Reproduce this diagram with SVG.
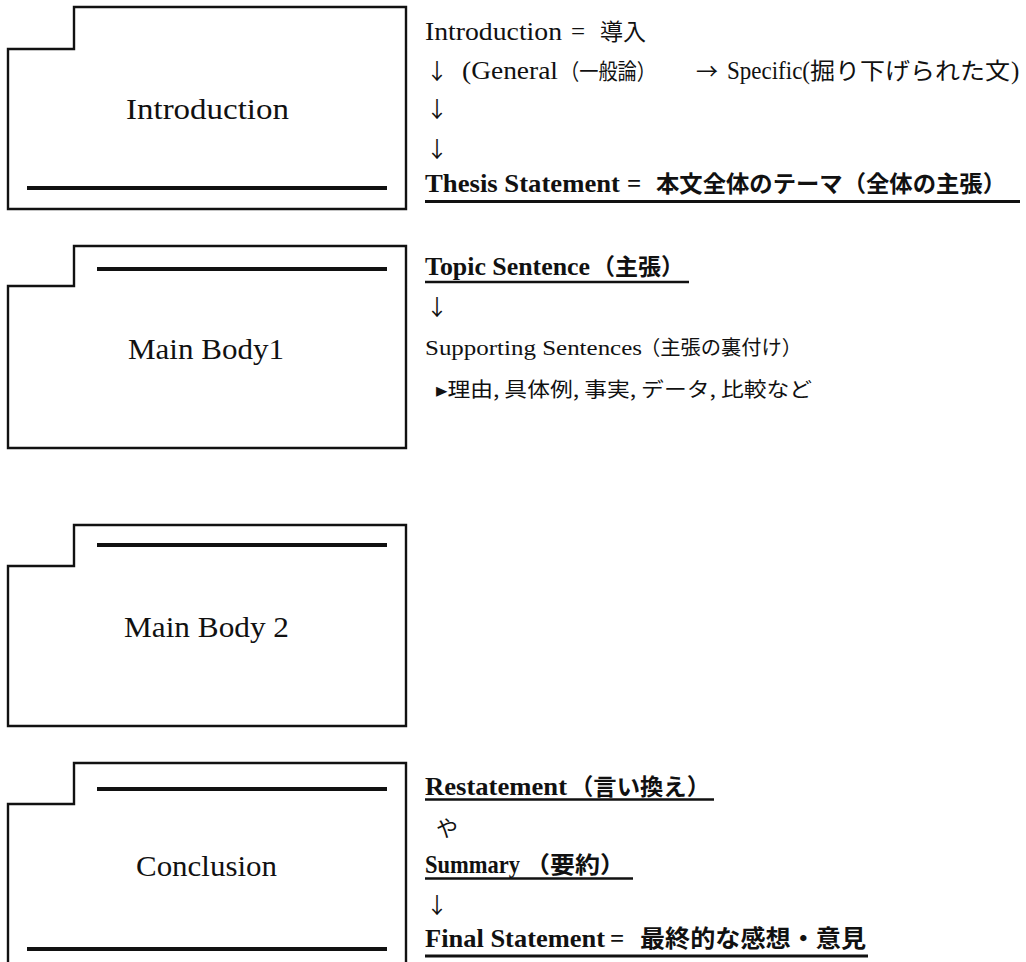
<svg xmlns="http://www.w3.org/2000/svg" width="1026" height="962" viewBox="0 0 1026 962">
<style>
.box{fill:#fff;stroke:#111;stroke-width:2.4;stroke-linejoin:miter}
.bar{stroke:#111;stroke-width:4;stroke-linecap:butt}
.ul{stroke:#111;stroke-width:2.6}
.lbl{font-family:"Liberation Serif","Noto Sans CJK JP",serif;font-size:30px;fill:#111}
.t{font-family:"Liberation Serif","Noto Sans CJK JP",serif;font-size:25px;fill:#111}
.b{font-weight:bold}
.cj{font-family:"Noto Sans CJK JP","Liberation Serif",sans-serif;fill:#111}
</style>
<rect width="1026" height="962" fill="#fff"/>
<g id="connectors"/>
<g id="node-introduction">
<path class="box" d="M8,49 H74 V7 H406 V209 H8 Z"/>
<line class="bar" x1="27" y1="188" x2="387" y2="188"/>
<text class="lbl" x="126" y="119" textLength="163" lengthAdjust="spacingAndGlyphs">Introduction</text>
</g>
<g id="node-main-body-1">
<path class="box" d="M8,286 H74 V246 H406 V448 H8 Z"/>
<line class="bar" x1="97" y1="269" x2="387" y2="269"/>
<text class="lbl" x="128" y="359" textLength="156" lengthAdjust="spacingAndGlyphs">Main Body1</text>
</g>
<g id="node-main-body-2">
<path class="box" d="M8,566 H74 V525 H406 V726 H8 Z"/>
<line class="bar" x1="97" y1="545" x2="387" y2="545"/>
<text class="lbl" x="124" y="637" textLength="165" lengthAdjust="spacingAndGlyphs">Main Body 2</text>
</g>
<g id="node-conclusion">
<path class="box" d="M8,975 V804 H74 V763 H406 V975"/>
<line class="bar" x1="97" y1="789" x2="387" y2="789"/>
<line class="bar" x1="27" y1="949" x2="387" y2="949"/>
<text class="lbl" x="136" y="876" textLength="141" lengthAdjust="spacingAndGlyphs">Conclusion</text>
</g>
<g id="notes-introduction">
<text class="t" x="425" y="40" textLength="137" lengthAdjust="spacingAndGlyphs">Introduction</text>
<text class="t" x="571" y="40">=</text>
<text class="cj" font-size="23" x="600" y="40">導入</text>
<text class="cj" font-size="22" x="437" y="79" text-anchor="middle">↓</text>
<text class="t" x="462" y="79" textLength="96" lengthAdjust="spacingAndGlyphs">(General</text>
<text class="cj" font-size="22" x="560" y="79" textLength="96" lengthAdjust="spacingAndGlyphs">（一般論）</text>
<text class="cj" font-size="22" x="707" y="79" text-anchor="middle">→</text>
<text class="t" x="727" y="79" textLength="83" lengthAdjust="spacingAndGlyphs">Specific(</text>
<text class="cj" font-size="23" x="810" y="79" textLength="200" lengthAdjust="spacingAndGlyphs">掘り下げられた文</text>
<text class="t" x="1011" y="79">)</text>
<text class="cj" font-size="22" x="437" y="117" text-anchor="middle">↓</text>
<text class="cj" font-size="22" x="437" y="157" text-anchor="middle">↓</text>
<text class="t b" x="425" y="192" textLength="195" lengthAdjust="spacingAndGlyphs">Thesis Statement</text>
<text class="t b" x="627" y="192">=</text>
<text class="cj b" font-size="23" x="656" y="192" textLength="350" lengthAdjust="spacingAndGlyphs">本文全体のテーマ（全体の主張）</text>
<line class="ul" x1="425" y1="201.5" x2="1020" y2="201.5" style="stroke-width:3"/>
</g>
<g id="notes-main-body-1">
<text class="t b" x="425" y="275" textLength="165" lengthAdjust="spacingAndGlyphs">Topic Sentence</text>
<text class="cj b" font-size="23" x="592" y="275">（主張）</text>
<line class="ul" x1="425" y1="282" x2="689" y2="282"/>
<text class="cj" font-size="22" x="437" y="315" text-anchor="middle">↓</text>
<text class="t" style="font-size:22px" x="425" y="355" textLength="217" lengthAdjust="spacingAndGlyphs">Supporting Sentences</text>
<text class="cj" font-size="20" x="640" y="355" textLength="162" lengthAdjust="spacingAndGlyphs">（主張の裏付け）</text>
<text class="cj" font-size="20" x="436" y="397" textLength="376" lengthAdjust="spacingAndGlyphs">▸理由, 具体例, 事実, データ, 比較など</text>
</g>
<g id="notes-conclusion">
<text class="t b" x="425" y="795" textLength="142" lengthAdjust="spacingAndGlyphs">Restatement</text>
<text class="cj b" font-size="23" x="570" y="795" textLength="140" lengthAdjust="spacingAndGlyphs">（言い換え）</text>
<line class="ul" x1="425" y1="799.5" x2="714" y2="799.5"/>
<text class="cj" font-size="22" x="436" y="836">や</text>
<text class="t b" x="425" y="873" textLength="95" lengthAdjust="spacingAndGlyphs">Summary</text>
<text class="cj b" font-size="23" x="525" y="873" textLength="100" lengthAdjust="spacingAndGlyphs">（要約）</text>
<line class="ul" x1="425" y1="878.5" x2="633" y2="878.5"/>
<text class="cj" font-size="22" x="437" y="913" text-anchor="middle">↓</text>
<text class="t b" x="425" y="947" textLength="180" lengthAdjust="spacingAndGlyphs">Final Statement</text>
<text class="t b" x="610" y="947">=</text>
<text class="cj b" font-size="24" x="640" y="947" textLength="226" lengthAdjust="spacingAndGlyphs">最終的な感想・意見</text>
<line class="ul" x1="425" y1="956" x2="868" y2="956" style="stroke-width:3"/>
</g>
</svg>
